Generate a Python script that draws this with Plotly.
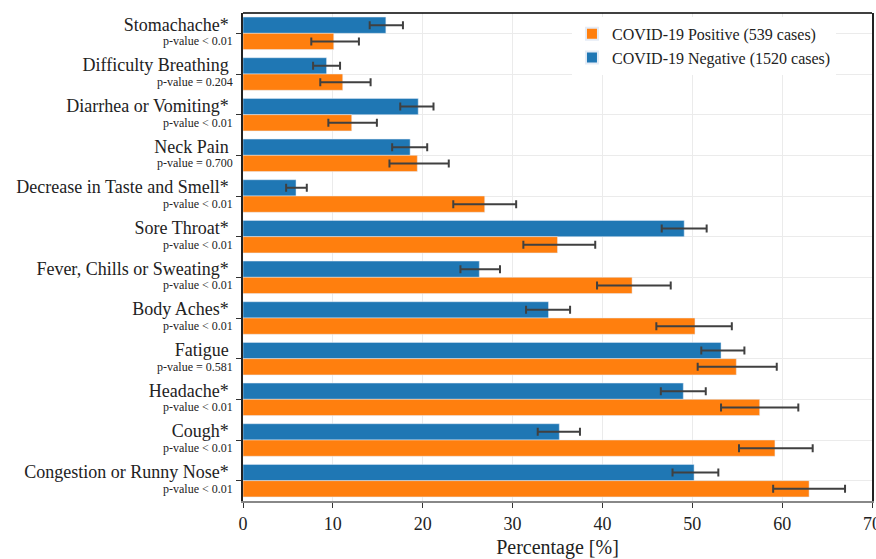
import plotly.graph_objects as go

symptoms = ["Stomachache*", "Difficulty Breathing", "Diarrhea or Vomiting*", "Neck Pain",
            "Decrease in Taste and Smell*", "Sore Throat*", "Fever, Chills or Sweating*",
            "Body Aches*", "Fatigue", "Headache*", "Cough*", "Congestion or Runny Nose*"]
p_values = ["p-value < 0.01", "p-value = 0.204", "p-value < 0.01", "p-value = 0.700",
            "p-value < 0.01", "p-value < 0.01", "p-value < 0.01", "p-value < 0.01",
            "p-value = 0.581", "p-value < 0.01", "p-value < 0.01", "p-value < 0.01"]

neg_pct = [15.9, 9.3, 19.5, 18.6, 5.9, 49.1, 26.3, 34.0, 53.2, 49.0, 35.2, 50.2]
neg_lo = [14.1, 7.8, 17.5, 16.6, 4.8, 46.6, 24.2, 31.5, 51.0, 46.5, 32.8, 47.8]
neg_hi = [17.8, 10.8, 21.2, 20.5, 7.1, 51.6, 28.6, 36.4, 55.8, 51.5, 37.5, 52.9]

pos_pct = [10.1, 11.1, 12.1, 19.4, 26.9, 35.0, 43.3, 50.3, 54.9, 57.5, 59.2, 63.0]
pos_lo = [7.6, 8.6, 9.5, 16.3, 23.4, 31.2, 39.4, 46.0, 50.6, 53.2, 55.2, 59.0]
pos_hi = [12.9, 14.2, 14.9, 22.9, 30.4, 39.2, 47.6, 54.4, 59.4, 61.8, 63.4, 67.0]

neg_name = "COVID-19 Negative (1520 cases)"
pos_name = "COVID-19 Positive (539 cases)"

FONT = "Liberation Serif, Times New Roman, serif"
ERR_COLOR = "#404040"

fig = go.Figure()
fig.add_trace(go.Bar(
    y=symptoms, x=neg_pct, orientation="h", name=neg_name, marker_color="#1f77b4",
    error_x=dict(type="data", symmetric=False,
                 array=[h - v for h, v in zip(neg_hi, neg_pct)],
                 arrayminus=[v - l for l, v in zip(neg_lo, neg_pct)],
                 color=ERR_COLOR, thickness=2, width=4),
))
fig.add_trace(go.Bar(
    y=symptoms, x=pos_pct, orientation="h", name=pos_name, marker_color="#ff7f0e",
    error_x=dict(type="data", symmetric=False,
                 array=[h - v for h, v in zip(pos_hi, pos_pct)],
                 arrayminus=[v - l for l, v in zip(pos_lo, pos_pct)],
                 color=ERR_COLOR, thickness=2, width=4),
))

for s, p in zip(symptoms, p_values):
    fig.add_annotation(x=0, xref="paper", y=s, yref="y", text=p, showarrow=False,
                       xanchor="right", yanchor="middle", xshift=-8, yshift=-8,
                       font=dict(family=FONT, size=12, color="#222"))

fig.add_shape(type="line", xref="paper", yref="paper", x0=0, x1=1, y0=1, y1=1,
              line=dict(color="black", width=1.5))

fig.update_layout(
    width=876, height=559,
    margin=dict(l=243, r=4, t=13, b=58, autoexpand=False),
    paper_bgcolor="white", plot_bgcolor="white",
    font=dict(family=FONT, size=18, color="#222"),
    barmode="group", bargap=0.2, bargroupgap=0.0,
    showlegend=True,
    legend=dict(x=0.523, xanchor="left", y=0.992, yanchor="top",
                traceorder="reversed", font=dict(family=FONT, size=16, color="#222"),
                bgcolor="white", borderwidth=0, itemsizing="constant"),
    xaxis=dict(range=[0, 70], dtick=10, tick0=0, showgrid=True, gridcolor="#ebebeb",
               zeroline=False, showline=True, linecolor="#888", linewidth=2,
               ticks="outside", ticklen=5, tickcolor="#333", automargin=False,
               ticklabeloverflow="allow",
               tickfont=dict(family=FONT, size=18, color="#222"),
               title=dict(text="Percentage [%]", font=dict(family=FONT, size=20, color="#222"),
                          standoff=8)),
    yaxis=dict(type="category", categoryorder="array", categoryarray=symptoms,
               range=[11.5, -0.5], showgrid=True, gridcolor="#ebebeb",
               showline=True, linecolor="#222", linewidth=1.5, mirror=True,
               ticks="outside", ticklen=5, tickcolor="#333", automargin=False,
               ticklabelstandoff=4, ticklabelshift=9,
               tickfont=dict(family=FONT, size=18, color="#222")),
)

fig.write_html("out.html", config={"displayModeBar": False},
               post_script="document.body.style.margin='0';document.body.style.overflow='hidden';")
